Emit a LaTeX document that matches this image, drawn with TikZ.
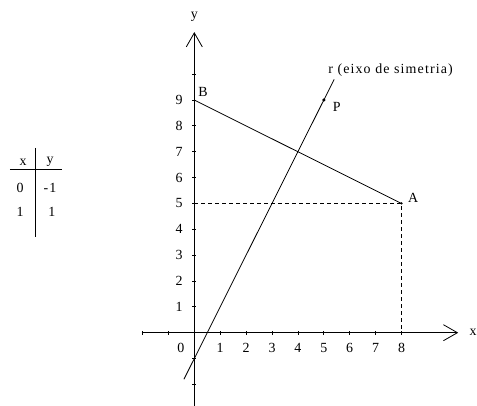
\documentclass[tikz,border=0pt]{standalone}
\usepackage{fontspec}
\setmainfont{Liberation Serif}[LetterSpace=8]
\usetikzlibrary{arrows.meta}

\begin{document}
\begin{tikzpicture}[x=25.9bp,y=25.85bp,line width=0.8bp,
    font=\fontsize{14}{16}\selectfont,
    lbl/.style={inner sep=0pt},
    dot/.style={circle,fill,inner sep=0pt,minimum size=3.5bp},
    guide/.style={dash pattern=on 4bp off 3bp},
    axis/.style={-{Straight Barb[length=14bp,width=16bp,line width=0.8bp]}}]
  \useasboundingbox (-194.3bp,-73.3bp) rectangle (282.7bp,332.7bp);

  % Constants
  \def\tk{0.08}   % half tick length
  \def\lx{-0.6}   % y of the x-axis numbers
  \def\ly{-0.59}  % x of the y-axis numbers

  % Points
  \coordinate (O) at (0,0);
  \coordinate (A) at (8,5);
  \coordinate (B) at (0,9);
  \coordinate (P) at (5,9);
  \coordinate (y5) at (0,5);
  \coordinate (x8) at (8,0);

  % Axes
  \coordinate (xL) at (-2.03,0);
  \coordinate (xR) at (10.19,0);
  \coordinate (yB) at (0,-3);
  \coordinate (yT) at (0,11.63);
  \draw[axis] (xL) -- (xR);
  \draw[axis] (yB) -- (yT);
  \node[lbl] (xlab) at (10.76,0) {x};
  \node[lbl] (ylab) at (0,12.21) {y};

  % Ticks and numbers
  \foreach \x in {-2,-1,1,2,...,8}
    \draw (\x,-\tk) -- (\x,\tk);
  \foreach \y in {-2,-1,1,2,...,10}
    \draw (-\tk,\y) -- (\tk,\y);
  \foreach \x in {1,...,8}
    \node[lbl] (nx\x) at (\x,\lx) {\x};
  \foreach \y in {1,...,9}
    \node[lbl] (ny\y) at (\ly,\y) {\y};
  \node[lbl] (n0) at (-0.52,\lx) {0};

  % Segment BA and guides to A
  \draw (B) -- (A);
  \draw[guide] (y5) -- (A) -- (x8);
  \node[dot,minimum size=2.5bp] (Adot) at (A) {};
  \node[lbl] (Alab) at (8.45,5.2) {A};
  \node[lbl] (Blab) at (0.34,9.31) {B};

  % Line r: y = 2x - 1
  \coordinate (r1) at (-0.4,-1.8);
  \coordinate (r2) at (5.4,9.8);
  \draw (r1) -- (r2);
  \node[dot] (Pdot) at (P) {};
  \node[lbl] (Plab) at (5.5,8.74) {P};
  \node[lbl,anchor=west] (rlab) at (5.16,10.16) {r (eixo de simetria)};

  % Table of values
  \coordinate (tv1) at (-6.15,7.15);
  \coordinate (tv2) at (-6.15,3.70);
  \coordinate (th1) at (-7.12,6.32);
  \coordinate (th2) at (-5.11,6.32);
  \draw (tv1) -- (tv2);
  \draw (th1) -- (th2);
  \foreach \i/\px/\py/\txt in {tx/-6.61/6.60/x, ty/-5.57/6.60/y,
      a0/-6.73/5.60/0, b0/-5.57/5.60/-1, a1/-6.73/4.67/1, b1/-5.50/4.67/1}
    \node[lbl] (\i) at (\px,\py) {\txt};
\end{tikzpicture}
\end{document}
